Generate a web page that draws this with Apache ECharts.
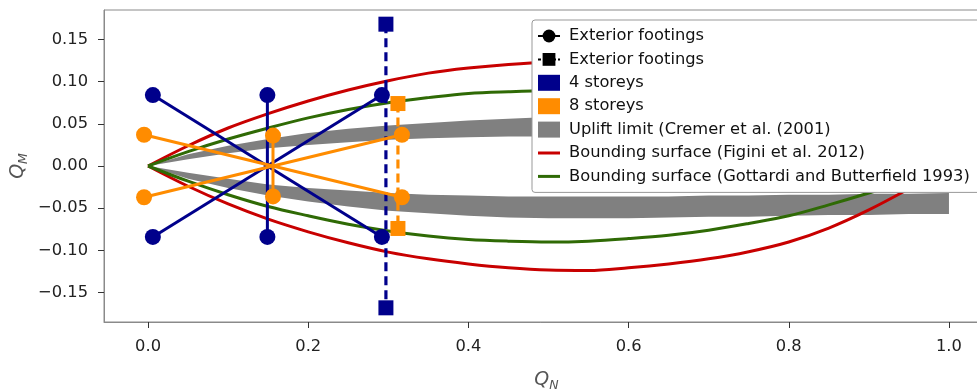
<!DOCTYPE html>
<html>
<head>
<meta charset="utf-8">
<script src="https://cdn.jsdelivr.net/npm/echarts@6/dist/echarts.min.js"></script>
<style>
  html, body { margin: 0; padding: 0; background: #fff; }
  #chart { width: 977px; height: 392px; }
</style>
</head>
<body>
<div id="chart"></div>
<script>
// Q_N sample positions for the curves
const qN = [0, 0.05, 0.1, 0.15, 0.2, 0.25, 0.3, 0.35, 0.4, 0.45, 0.5, 0.55, 0.6, 0.65, 0.7, 0.75, 0.8, 0.85, 0.9, 0.95, 1.0]

const figiniUpper = [0, 0.024, 0.045, 0.062, 0.077, 0.090, 0.101, 0.110, 0.116, 0.1203, 0.123, 0.1235, 0.1205, 0.116, 0.1095, 0.1012, 0.090, 0.0735, 0.052, 0.027, 0]
const figiniLower = [0, -0.024, -0.045, -0.063, -0.078, -0.091, -0.102, -0.110, -0.116, -0.1205, -0.1232, -0.1237, -0.1205, -0.116, -0.110, -0.1015, -0.090, -0.0735, -0.052, -0.027, 0]

const gottardiUpper = [0, 0.017, 0.032, 0.045, 0.057, 0.067, 0.075, 0.081, 0.086, 0.088, 0.089, 0.089, 0.086, 0.082, 0.076, 0.068, 0.058, 0.046, 0.032, 0.017, 0]
const gottardiLower = [0, -0.018, -0.034, -0.048, -0.059, -0.069, -0.077, -0.083, -0.087, -0.089, -0.090, -0.089, -0.086, -0.082, -0.076, -0.068, -0.059, -0.046, -0.032, -0.017, 0]

// uplift band (Cremer et al.), inner = edge nearer zero
const upperBandInner = [0, 0.008, 0.015, 0.021, 0.025, 0.028, 0.031, 0.033, 0.034, 0.035, 0.035, 0.036, 0.036, 0.036, 0.036, 0.035, 0.035, 0.034, 0.034, 0.033, 0.033]
const upperBandOuter = [0, 0.014, 0.024, 0.032, 0.039, 0.044, 0.048, 0.051, 0.054, 0.056, 0.058, 0.059, 0.059, 0.059, 0.059, 0.059, 0.058, 0.058, 0.057, 0.057, 0.057]
const lowerBandInner = [0, -0.008, -0.015, -0.022, -0.026, -0.029, -0.032, -0.034, -0.035, -0.036, -0.036, -0.036, -0.036, -0.036, -0.035, -0.035, -0.034, -0.034, -0.033, -0.033, -0.032]
const lowerBandOuter = [0, -0.015, -0.026, -0.035, -0.042, -0.048, -0.053, -0.056, -0.059, -0.061, -0.062, -0.062, -0.062, -0.061, -0.060, -0.060, -0.059, -0.058, -0.058, -0.057, -0.057]

// exterior footings, [Q_N, Q_M] end points of each segment
const storeys4Segments = [
    [[0.006, 0.084], [0.292, -0.084]],
    [[0.006, -0.084], [0.292, 0.084]],
    [[0.149, 0.084], [0.149, -0.084]]
]
const storeys4Squares = [[0.297, 0.168], [0.297, -0.168]]

const storeys8Segments = [
    [[-0.005, 0.037], [0.317, -0.037]],
    [[-0.005, -0.037], [0.317, 0.037]],
    [[0.156, 0.036], [0.156, -0.036]]
]
const storeys8Squares = [[0.312, 0.074], [0.312, -0.074]]

const xTicks = [0, 0.2, 0.4, 0.6, 0.8, 1.0]
const yTicks = [-0.15, -0.1, -0.05, 0, 0.05, 0.1, 0.15]

const NAVY = '#00008b'
const ORANGE = '#ff8c00'
const RED = '#c80000'
const GREEN = '#2f6a05'
const GRAY = '#808080'
const FONT = 'DejaVu Sans'

const names = {
    circ: 'Exterior footings',
    sq: 'Exterior footings (square)',
    s4: '4 storeys',
    s8: '8 storeys',
    uplift: 'Uplift limit (Cremer et al. (2001)',
    figini: 'Bounding surface (Figini et al. 2012)',
    gottardi: 'Bounding surface (Gottardi and Butterfield 1993)'
}

let zip = (xs, ys) => xs.map((x, i) => [x, ys[i]])

// filled region between inner and outer edge, drawn once as one polygon
function band(inner, outer) {
    return {
        type: 'custom', name: names.uplift, z: 1, clip: true,
        itemStyle: { color: GRAY },
        data: qN.map((x, i) => [x, inner[i], outer[i]]),
        encode: { x: 0, y: [1, 2] },
        renderItem: (params, api) => {
            if (params.dataIndex !== 0) return null
            let pts = []
            qN.forEach((x, i) => pts.push(api.coord([x, outer[i]])))
            for (let i = qN.length - 1; i >= 0; i--) pts.push(api.coord([qN[i], inner[i]]))
            return {
                type: 'polygon',
                shape: { points: pts },
                style: { fill: GRAY }
            }
        }
    }
}

function curve(name, color, ys) {
    return {
        type: 'line', name: name, data: zip(qN, ys), symbol: 'none', smooth: 0.35,
        lineStyle: { color: color, width: 3 }, itemStyle: { color: color }, z: 2
    }
}

function footings(name, color, segments, squares) {
    let list = segments.map(seg => ({
        type: 'line', name: name, data: seg, symbol: 'circle', symbolSize: 16,
        lineStyle: { color: color, width: 3 }, itemStyle: { color: color }, z: 3
    }))
    list.push({
        type: 'line', name: name, data: squares, symbol: 'rect', symbolSize: 15,
        lineStyle: { color: color, width: 3.2, type: [9, 5] }, itemStyle: { color: color }, z: 3
    })
    return list
}

let axisName = (sub) => ({
    text: '{q|Q}{s|' + sub + '}',
    rich: {
        q: { fontSize: 19, fontStyle: 'italic', fontFamily: FONT, color: '#555', lineHeight: 24 },
        s: { fontSize: 12.5, fontStyle: 'italic', fontFamily: FONT, color: '#555', lineHeight: 24, verticalAlign: 'bottom' }
    }
})

const xName = axisName('N')
const yName = axisName('M')

const option = {
    animation: false,
    backgroundColor: '#fff',
    grid: {
        left: 104, top: 10, right: -12, bottom: 70,
        show: true, borderColor: '#8a8a8a', borderWidth: 1,
        outerBoundsMode: 'none'
    },
    xAxis: {
        type: 'value', min: -0.055, max: 1.05,
        name: xName.text, nameLocation: 'middle', nameGap: 46,
        nameTextStyle: { rich: xName.rich },
        axisLine: { show: true, onZero: false, lineStyle: { color: '#8a8a8a' } },
        axisTick: { show: true, length: 6, customValues: xTicks, lineStyle: { color: '#333' } },
        axisLabel: {
            customValues: xTicks, margin: 17, fontSize: 16.3, fontFamily: FONT, color: '#222',
            formatter: v => v.toFixed(1)
        },
        splitLine: { show: false }
    },
    yAxis: {
        type: 'value', min: -0.1848, max: 0.1848,
        name: yName.text, nameLocation: 'middle', nameGap: 74, nameRotate: 90,
        nameMoveOverlap: false,
        nameTextStyle: { rich: yName.rich },
        axisLine: { show: true, onZero: false, lineStyle: { color: '#8a8a8a' } },
        axisTick: { show: true, length: 6, customValues: yTicks, lineStyle: { color: '#333' } },
        axisLabel: {
            customValues: yTicks, margin: 16, fontSize: 16.3, fontFamily: FONT, color: '#222',
            formatter: v => v.toFixed(2).replace('-', '\u2212')
        },
        splitLine: { show: false }
    },
    legend: {
        orient: 'vertical', left: 532, top: 20,
        padding: [8, 12, 8, 5], itemWidth: 22, itemHeight: 16, itemGap: 7.4,
        backgroundColor: '#fff', borderColor: '#999', borderWidth: 1, borderRadius: 3,
        selectedMode: false,
        textStyle: { fontFamily: FONT, fontSize: 16.3, color: '#111', padding: [0, 0, 0, 4] },
        formatter: n => n.replace(' (square)', ''),
        data: [
            { name: names.circ },
            { name: names.sq },
            { name: names.s4, icon: 'rect' },
            { name: names.s8, icon: 'rect' },
            { name: names.uplift, icon: 'rect' },
            { name: names.figini, icon: 'path://M0 0H22V3H0Z' },
            { name: names.gottardi, icon: 'path://M0 0H22V3H0Z' }
        ],
        z: 10
    },
    series: [
        band(upperBandInner, upperBandOuter),
        band(lowerBandInner, lowerBandOuter),
        curve(names.figini, RED, figiniUpper),
        curve(names.figini, RED, figiniLower),
        curve(names.gottardi, GREEN, gottardiUpper),
        curve(names.gottardi, GREEN, gottardiLower),
        ...footings(names.s4, NAVY, storeys4Segments, storeys4Squares),
        ...footings(names.s8, ORANGE, storeys8Segments, storeys8Squares),
        // legend-only entries
        {
            type: 'line', name: names.circ, data: [], symbol: 'circle',
            lineStyle: { color: '#000', width: 3 }, itemStyle: { color: '#000' }
        },
        {
            type: 'line', name: names.sq, data: [], symbol: 'rect',
            lineStyle: { color: '#000', width: 3, type: [3, 2] }, itemStyle: { color: '#000' }
        }
    ]
}

let chart = echarts.init(document.getElementById('chart'))
chart.setOption(option)
</script>
</body>
</html>
